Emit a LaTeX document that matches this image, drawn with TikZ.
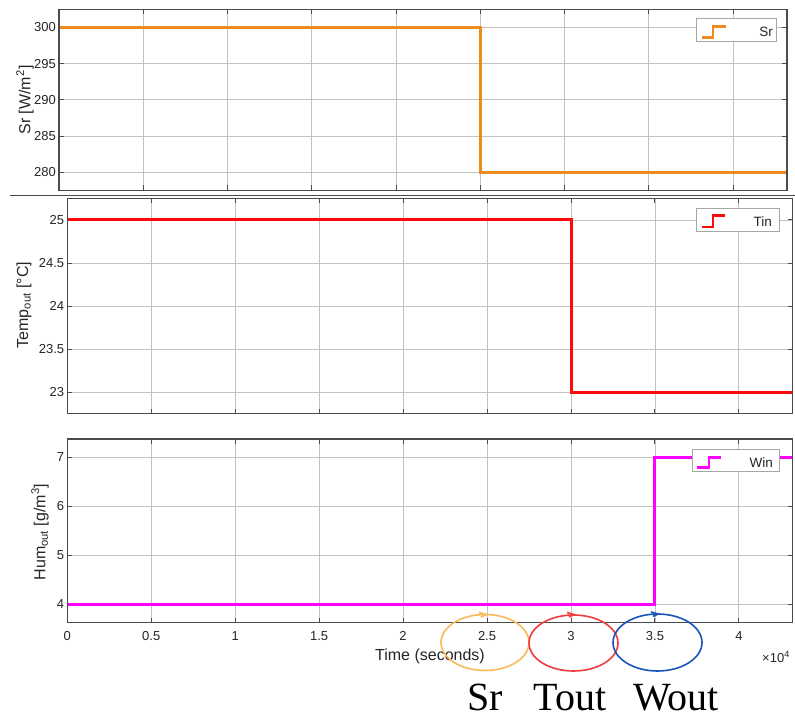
\documentclass[tikz,border=0pt]{standalone}
\usepackage{fontspec}
\setmainfont{Liberation Sans}
\newfontfamily\handfont{Liberation Serif}
\definecolor{srorange}{RGB}{236,140,28}
\definecolor{tinred}{RGB}{255,10,10}
\definecolor{winmag}{RGB}{255,0,255}
\definecolor{circorange}{RGB}{250,185,90}
\definecolor{circred}{RGB}{240,60,60}
\definecolor{circblue}{RGB}{25,85,185}
\definecolor{axcol}{RGB}{75,75,75}
\definecolor{gridcol}{RGB}{195,195,195}
\definecolor{txtcol}{RGB}{38,38,38}
\tikzset{
 axbox/.style={draw=axcol, line width=1.2pt},
 gridln/.style={draw=gridcol, line width=0.9pt},
 tickln/.style={draw=axcol, line width=1pt},
 sig/.style={line width=3pt, line join=miter},
 legsig/.style={line width=2.8pt, line join=miter},
 ticklab/.style={text=txtcol, font=\fontsize{13}{15}\selectfont, inner sep=0pt},
 axlab/.style={text=txtcol, font=\fontsize{16}{18}\selectfont, inner sep=0pt},
 legbox/.style={draw=gray!70, fill=white, line width=1pt},
 legtxt/.style={text=txtcol, font=\fontsize{13.5}{15}\selectfont, inner sep=0pt, anchor=east},
 circ/.style={line width=1.6pt},
 hand/.style={font=\handfont\fontsize{40}{44}\selectfont, inner sep=0pt, anchor=base, text=black},
}
\begin{document}
\begin{tikzpicture}[x=1pt,y=-1pt]
\useasboundingbox (0,0) rectangle (795,722);
\fill[white] (0,0) rectangle (795,722);

% ---------- Panel 1: Sr ----------
\begin{scope}[shift={(59,2202.3)}, x=168.5pt, y=7.25pt]
 \foreach \t in {0.5,1,...,4} {
   \draw[gridln] (\t,277.5) -- (\t,302.5);
 }
 \foreach \v in {280,285,...,300} {
   \draw[gridln] (0,\v) -- (4.32,\v);
 }
 \foreach \t in {0.5,1,...,4} {
   \draw[tickln] (\t,277.5) -- ++(0pt,5pt);
   \draw[tickln] (\t,302.5) -- ++(0pt,-5pt);
 }
 \foreach \v in {280,285,...,300} {
   \draw[tickln] (0,\v) -- ++(5pt,0pt);
   \draw[tickln] (4.32,\v) -- ++(-5pt,0pt);
   \node[ticklab, anchor=east] (sry\v) at ([xshift=-3pt]0,\v) {\v};
 }
 \draw[sig, srorange] (0,300) -- (2.5,300) -- (2.5,280) -- (4.32,280);
 \draw[axbox] (0,277.5) rectangle (4.32,302.5);
\end{scope}
\node[axlab, rotate=90] (ylab1) at (25,100) {Sr [W/m\textsuperscript{2}]};
\draw[legbox] (696,19) rectangle (776,42);
\draw[legsig, srorange] (702,37.7) -- (713,37.7) -- (713,26.7) -- (726,26.7);
\node[legtxt] (leg1) at (773,31.5) {Sr};

% separator
\draw[axbox] (10,195.7) -- (795,195.7);

% ---------- Panel 2: Temp ----------
\begin{scope}[shift={(67.3,2370)}, x=167.9pt, y=86pt]
 \foreach \t in {0.5,1,...,4} {
   \draw[gridln] (\t,22.75) -- (\t,25.25);
 }
 \foreach \v in {23,23.5,...,25} {
   \draw[gridln] (0,\v) -- (4.32,\v);
 }
 \foreach \t in {0.5,1,...,4} {
   \draw[tickln] (\t,22.75) -- ++(0pt,5pt);
   \draw[tickln] (\t,25.25) -- ++(0pt,-5pt);
 }
 \foreach \v/\lab [count=\i] in {23/23,23.5/23.5,24/24,24.5/24.5,25/25} {
   \draw[tickln] (0,\v) -- ++(5pt,0pt);
   \draw[tickln] (4.32,\v) -- ++(-5pt,0pt);
   \node[ticklab, anchor=east] (tpy\i) at ([xshift=-3pt]0,\v) {\lab};
 }
 \draw[sig, tinred] (0,25) -- (3,25) -- (3,23) -- (4.32,23);
 \draw[axbox] (0,22.75) rectangle (4.32,25.25);
\end{scope}
\node[axlab, rotate=90] (ylab2) at (24,305) {Temp\textsubscript{out} [°C]};
\draw[legbox] (696,209) rectangle (779.3,231.7);
\draw[legsig, tinred] (702,227) -- (713,227) -- (713,215.7) -- (725,215.7);
\node[legtxt] (leg2) at (772,221.5) {Tin};

% ---------- Panel 3: Hum ----------
\begin{scope}[shift={(67.3,800.3)}, x=167.9pt, y=49pt]
 \foreach \t in {0.5,1,...,4} {
   \draw[gridln] (\t,3.625) -- (\t,7.375);
 }
 \foreach \v in {4,5,6,7} {
   \draw[gridln] (0,\v) -- (4.32,\v);
 }
 \foreach \t in {0.5,1,...,4} {
   \draw[tickln] (\t,3.625) -- ++(0pt,5pt);
   \draw[tickln] (\t,7.375) -- ++(0pt,-5pt);
 }
 \foreach \v in {4,5,6,7} {
   \draw[tickln] (0,\v) -- ++(5pt,0pt);
   \draw[tickln] (4.32,\v) -- ++(-5pt,0pt);
   \node[ticklab, anchor=east] (hmy\v) at ([xshift=-3pt]0,\v) {\v};
 }
 \draw[sig, winmag] (0,4) -- (3.5,4) -- (3.5,7) -- (4.32,7);
 \draw[axbox] (0,3.625) rectangle (4.32,7.375);
 \foreach \t/\lab [count=\i] in {0/0,0.5/0.5,1/1,1.5/1.5,2/2,2.5/2.5,3/3,3.5/3.5,4/4} {
   \node[ticklab] (xt\i) at ([yshift=-13pt]\t,3.625) {\lab};
 }
\end{scope}
\node[axlab, rotate=90] (ylab3) at (40,532) {Hum\textsubscript{out} [g/m\textsuperscript{3}]};
\draw[legbox] (692.3,449.3) rectangle (779.3,471.7);
\draw[legsig, winmag] (697,467.7) -- (709,467.7) -- (709,457.3) -- (721,457.3);
\node[legtxt] (leg3) at (773,462.3) {Win};

\node[axlab] (xlab) at (430,656) {Time (seconds)};
\node[ticklab] (xmul) at (776,657) {×10\textsuperscript{4}};

% ---------- hand-drawn circles ----------
\draw[circ, circorange] (485,642.5) ellipse [x radius=44, y radius=28];
\draw[circ, circorange] (479,612.5) -- (486,614.5) -- (481,617);
\draw[circ, circred] (573.5,643) ellipse [x radius=44.5, y radius=28];
\draw[circ, circred] (567,612.5) -- (574,614.5) -- (569,617);
\draw[circ, circblue] (657.5,642.5) ellipse [x radius=44.5, y radius=28.5];
\draw[circ, circblue] (651,612) -- (658,614) -- (653,616.5);

\node[hand] (hsr) at (485,710) {Sr};
\node[hand] (htout) at (570,710) {Tout};
\node[hand] (hwout) at (676,710) {Wout};
\end{tikzpicture}
\end{document}
